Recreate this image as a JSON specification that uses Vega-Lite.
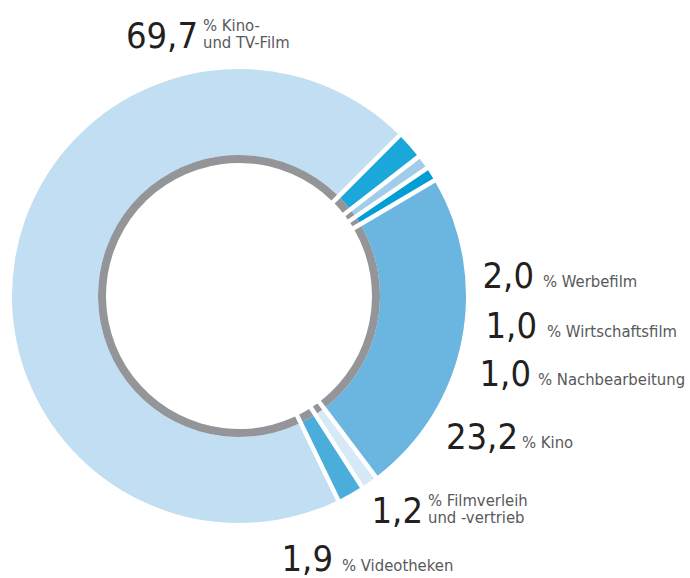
{
  "$schema": "https://vega.github.io/schema/vega-lite/v6.json",
  "width": 690,
  "height": 578,
  "autosize": {"type": "none"},
  "padding": 0,
  "background": "white",
  "config": {
    "view": {"stroke": null},
    "locale": {"number": {"decimal": ",", "thousands": ".", "grouping": [3], "currency": ["", " €"]}}
  },
  "data": {
    "values": [
      {"nr": 1, "Kategorie": "Werbefilm", "Anteil": 2.0, "Label": "% Werbefilm"},
      {"nr": 2, "Kategorie": "Wirtschaftsfilm", "Anteil": 1.0, "Label": "% Wirtschaftsfilm"},
      {"nr": 3, "Kategorie": "Nachbearbeitung", "Anteil": 1.0, "Label": "% Nachbearbeitung"},
      {"nr": 4, "Kategorie": "Kino", "Anteil": 23.2, "Label": "% Kino"},
      {"nr": 5, "Kategorie": "Filmverleih und -vertrieb", "Anteil": 1.2, "Label": "% Filmverleih\nund -vertrieb"},
      {"nr": 6, "Kategorie": "Videotheken", "Anteil": 1.9, "Label": "% Videotheken"},
      {"nr": 7, "Kategorie": "Kino- und TV-Film", "Anteil": 69.7, "Label": "% Kino-\nund TV-Film"}
    ]
  },
  "layer": [
    {
      "mark": {"type": "arc", "x": 239, "y": 296, "radius": 227, "innerRadius": 141, "padAngle": 0.0168, "stroke": null},
      "encoding": {
        "theta": {"field": "Anteil", "type": "quantitative", "stack": true, "scale": {"range": [0.7854, 7.0686]}},
        "order": {"field": "nr", "type": "quantitative"},
        "color": {
          "field": "Kategorie", "type": "nominal", "legend": null,
          "scale": {
            "domain": ["Werbefilm", "Wirtschaftsfilm", "Nachbearbeitung", "Kino", "Filmverleih und -vertrieb", "Videotheken", "Kino- und TV-Film"],
            "range": ["#1ca7db", "#a2cdea", "#009ed5", "#6bb6e0", "#d5e9f6", "#4badda", "#c1def2"]
          }
        }
      }
    },
    {
      "mark": {"type": "arc", "x": 239, "y": 296, "radius": 141, "innerRadius": 133, "padAngle": 0.0232, "stroke": null, "color": "#939598"},
      "encoding": {
        "theta": {"field": "Anteil", "type": "quantitative", "stack": true},
        "order": {"field": "nr", "type": "quantitative"}
      }
    },
    {
      "mark": {
        "type": "text", "align": "right", "baseline": "alphabetic",
        "font": "DejaVu Sans Condensed, sans-serif",
        "fontSize": 36, "color": "#231f20",
        "x": {"expr": "[534, 537, 531, 518, 423, 333, 198][datum.nr - 1]"},
        "y": {"expr": "[288, 338, 386, 449, 523, 571, 48][datum.nr - 1]"}
      },
      "encoding": {
        "text": {"field": "Anteil", "type": "quantitative", "format": ".1f"}
      }
    },
    {
      "mark": {
        "type": "text", "align": "left", "baseline": "alphabetic", "lineBreak": "\n", "lineHeight": 16.5,
        "font": "DejaVu Sans Condensed, sans-serif",
        "fontSize": 16.5, "color": "#58595b",
        "x": {"expr": "[543, 547, 538, 522, 428, 342, 203][datum.nr - 1]"},
        "y": {"expr": "[287, 337, 385, 448, 506, 571, 31][datum.nr - 1]"}
      },
      "encoding": {
        "text": {"field": "Label", "type": "nominal"}
      }
    }
  ]
}
